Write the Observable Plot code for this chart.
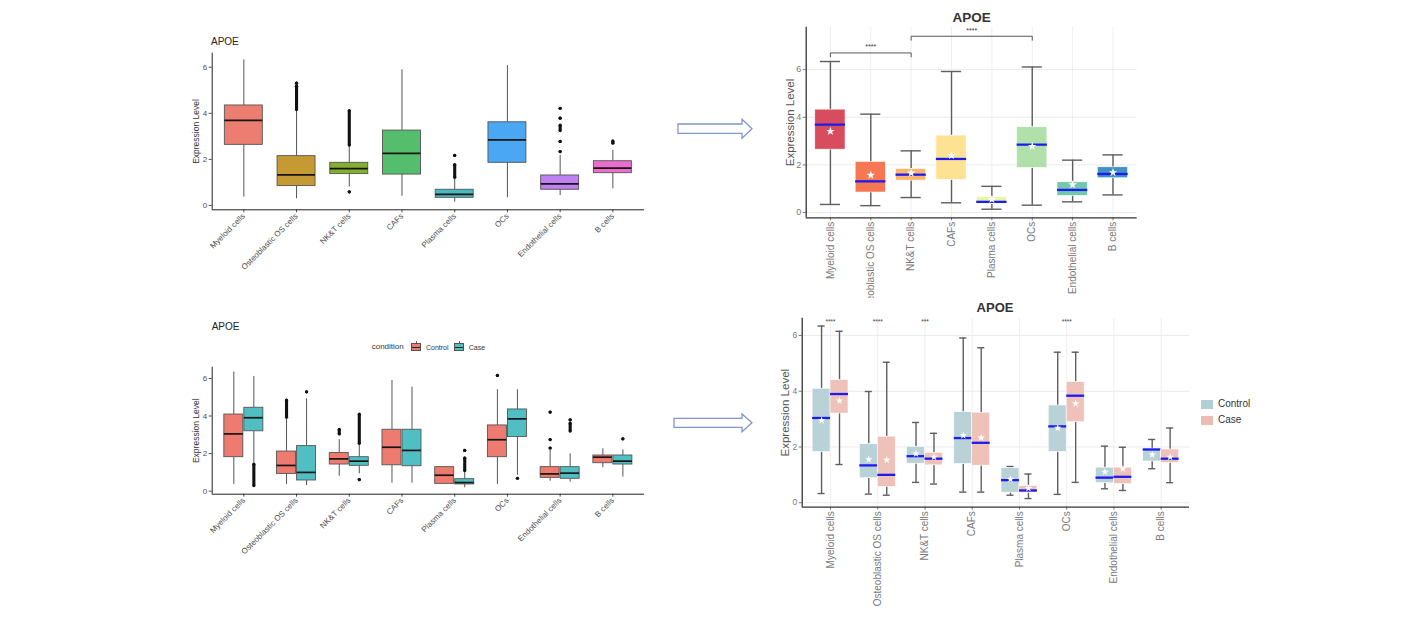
<!DOCTYPE html>
<html><head><meta charset="utf-8">
<script src="https://cdn.jsdelivr.net/npm/d3@7"></script>
<script src="https://cdn.jsdelivr.net/npm/@observablehq/plot@0.6"></script>
<style>
body{margin:0;background:#fff;}
#root{position:relative;width:1412px;height:628px;overflow:hidden;font-family:"Liberation Sans",Arial,Helvetica,sans-serif;}
.panel{position:absolute;}
.t{position:absolute;white-space:nowrap;line-height:1;}
</style></head><body><div id="root"></div>
<script>
const cells = ["Myeloid cells","Osteoblastic OS cells","NK&T cells","CAFs","Plasma cells","OCs","Endothelial cells","B cells"];
const yTicks = [0,2,4,6];
const idx = [1,2,3,4,5,6,7,8];
const groups = ["Control","Case"];

// ---- Top-left: all cells (ggplot default) ----
const tlLow  = [0.36,0.29,0.80,0.40,0.14,0.33,0.43,0.72];
const tlQ1   = [2.63,0.84,1.36,1.34,0.33,1.85,0.68,1.40];
const tlMed  = [3.69,1.33,1.60,2.26,0.48,2.85,0.94,1.62];
const tlQ3   = [4.34,2.14,1.85,3.25,0.68,3.61,1.30,1.92];
const tlHigh = [6.32,4.12,2.58,5.89,1.18,6.07,2.17,2.39];
const tlOut  = [[],[[4.16,5.1],[5.18,5.18],[5.31,5.31]],[[0.59,0.59],[2.62,4.1]],[],[[1.22,1.75],[2.17,2.17]],[],[[2.34,2.34],[2.78,2.78],[3.25,3.47],[3.79,3.79],[4.22,4.22]],[[2.7,2.78]]];
const tlColors = ["#EC7E71","#C69A33","#86AE2E","#55BE6C","#48BBC2","#4AA7F4","#BE80F2","#EB6ECE"];

// ---- Top-right: all cells (styled) ----
const trLow  = [0.34,0.29,0.63,0.41,0.14,0.31,0.45,0.74];
const trQ1   = [2.64,0.84,1.34,1.37,0.36,1.87,0.70,1.44];
const trMed  = [3.69,1.31,1.59,2.25,0.45,2.85,0.95,1.62];
const trMean = [3.41,1.57,1.66,2.39,0.55,2.78,1.17,1.68];
const trQ3   = [4.32,2.13,1.83,3.23,0.64,3.58,1.27,1.90];
const trHigh = [6.34,4.13,2.59,5.92,1.10,6.11,2.20,2.42];
const trColors = ["#D53E4F","#F46D43","#FDAE61","#FEE08B","#E6F598","#ABDDA4","#66C2A5","#3288BD"];
const trBrackets = [{from:1,to:3,y:6.70,label:"****"},{from:3,to:6,y:7.40,label:"****"}];

// ---- Bottom-left: by condition (ggplot default) ----
const blCtrlLow  = [0.36,0.36,0.80,0.43,0.36,0.36,0.53,1.25];
const blCtrlQ1   = [1.81,0.92,1.42,1.38,0.39,1.81,0.71,1.49];
const blCtrlMed  = [3.05,1.37,1.72,2.34,0.85,2.74,0.92,1.81];
const blCtrlQ3   = [4.08,2.11,2.03,3.27,1.28,3.50,1.28,1.90];
const blCtrlHigh = [6.34,3.85,2.74,5.89,1.30,5.40,2.17,2.26];
const blCtrlOut  = [[],[[3.94,4.83]],[[3.05,3.27]],[],[],[[6.16,6.16]],[[2.3,2.3],[2.75,2.75],[4.21,4.21]],[]];
const blCaseLow  = [1.50,0.30,0.92,0.43,0.18,0.85,0.48,0.75];
const blCaseQ1   = [3.19,0.57,1.35,1.33,0.36,2.88,0.66,1.42];
const blCaseMed  = [3.91,1.00,1.60,2.17,0.46,3.85,0.96,1.60];
const blCaseQ3   = [4.44,2.40,1.81,3.27,0.64,4.35,1.28,1.90];
const blCaseHigh = [6.11,4.92,2.50,5.54,1.05,5.40,1.99,2.20];
const blCaseOut  = [[[0.3,1.42]],[[5.29,5.29]],[[0.62,0.62],[2.55,4.08]],[],[[1.1,1.75],[2.17,2.17]],[[0.69,0.69]],[[3.2,3.6],[3.8,3.8]],[[2.79,2.79]]];
const blColors = ["#EE7B6F","#4FBFC3"];

// ---- Bottom-right: by condition (styled) ----
const brCtrlLow  = [0.33,0.31,0.73,0.38,0.27,0.30,0.50,1.22];
const brCtrlQ1   = [1.82,0.88,1.40,1.39,0.36,1.82,0.70,1.48];
const brCtrlMed  = [3.04,1.34,1.67,2.32,0.81,2.74,0.90,1.91];
const brCtrlMean = [2.95,1.55,1.76,2.41,0.84,2.68,1.10,1.72];
const brCtrlQ3   = [4.09,2.10,2.00,3.25,1.24,3.49,1.26,1.94];
const brCtrlHigh = [6.34,3.99,2.88,5.91,1.30,5.40,2.03,2.27];
const brCaseLow  = [1.37,0.27,0.67,0.38,0.15,0.73,0.44,0.72];
const brCaseQ1   = [3.20,0.57,1.34,1.33,0.36,2.89,0.67,1.43];
const brCaseMed  = [3.90,1.00,1.58,2.15,0.44,3.84,0.93,1.58];
const brCaseMean = [3.66,1.53,1.64,2.33,0.52,3.56,1.22,1.64];
const brCaseQ3   = [4.40,2.37,1.79,3.23,0.60,4.33,1.26,1.91];
const brCaseHigh = [6.15,5.04,2.49,5.56,1.03,5.40,1.99,2.68];
const brSig = ["****","****","***","","","****","",""];
const brSigY = 6.5;
const brColors = ["#B3CED5","#EDBCB3"];

const FONT = '"Liberation Sans", Arial, Helvetica, sans-serif';
const root = document.getElementById("root");

function rows(low,q1,med,q3,high,off,color,mean){
  return cells.map((c,i)=>({x:i+1+off, low:low[i], q1:q1[i], med:med[i], q3:q3[i], high:high[i], color:Array.isArray(color)?color[i]:color, mean: mean?mean[i]:null}));
}
function outRuns(out,off){ return out.flatMap((arr,i)=>arr.map(([a,b])=>({x:i+1+off,a,b}))); }

function ggBoxes(data, half, runs){
  return [
    Plot.ruleX(data,{x:"x",y1:"low",y2:"q1",stroke:"#555",strokeWidth:1}),
    Plot.ruleX(data,{x:"x",y1:"q3",y2:"high",stroke:"#555",strokeWidth:1}),
    Plot.rect(data,{x1:d=>d.x-half,x2:d=>d.x+half,y1:"q1",y2:"q3",fill:"color",stroke:"#555",strokeWidth:0.9}),
    Plot.ruleY(data,{y:"med",x1:d=>d.x-half,x2:d=>d.x+half,stroke:"#151515",strokeWidth:1.7}),
    Plot.ruleX(runs.filter(d=>d.b>d.a),{x:"x",y1:"a",y2:"b",stroke:"#111",strokeWidth:3.1,strokeLinecap:"round"}),
    Plot.dot(runs.flatMap(d=>[{x:d.x,y:d.a},{x:d.x,y:d.b}]),{x:"x",y:"y",r:1.6,fill:"#111"})
  ];
}
function niceBoxes(data, half, cap, starR){
  return [
    Plot.ruleX(data,{x:"x",y1:"low",y2:"q1",stroke:"#5e5e5e",strokeWidth:1.4}),
    Plot.ruleX(data,{x:"x",y1:"q3",y2:"high",stroke:"#5e5e5e",strokeWidth:1.4}),
    Plot.ruleY(data,{y:"low",x1:d=>d.x-cap,x2:d=>d.x+cap,stroke:"#5e5e5e",strokeWidth:1.4}),
    Plot.ruleY(data,{y:"high",x1:d=>d.x-cap,x2:d=>d.x+cap,stroke:"#5e5e5e",strokeWidth:1.4}),
    Plot.rect(data,{x1:d=>d.x-half,x2:d=>d.x+half,y1:"q1",y2:"q3",fill:"color",fillOpacity:0.92,stroke:"white",strokeWidth:0.6}),
    Plot.ruleY(data,{y:"med",x1:d=>d.x-half,x2:d=>d.x+half,stroke:"#1c1cf0",strokeWidth:2.3}),
    Plot.dot(data,{x:"x",y:"mean",symbol:"star",r:starR,fill:"white",stroke:"none"})
  ];
}

function panel(cfg, marks){
  const base = [];
  if (cfg.grid) base.push(
    Plot.gridY({ticks:yTicks,stroke:"#e8e8e8",strokeOpacity:1,strokeWidth:0.9}),
    Plot.gridX({ticks:idx,stroke:"#ececec",strokeOpacity:1,strokeWidth:0.9}));
  base.push(
    Plot.axisY({ticks:yTicks,tickFormat:d3.format("d"),tickSize:3,tickPadding:2,fontSize:cfg.yFont,color:cfg.tickColor,label:null}),
    Plot.axisX({ticks:idx,tickFormat:i=>cells[i-1],tickRotate:cfg.rotate,tickSize:3,tickPadding:cfg.xPad,fontSize:cfg.xFont,color:cfg.tickColor,label:null}),
    Plot.text(["Expression Level"],{frameAnchor:"left",textAnchor:"middle",rotate:-90,dx:cfg.labelDx,fontSize:cfg.labelFont,fill:cfg.labelColor}));
  return Plot.plot({
    width:cfg.w,height:cfg.h,marginLeft:cfg.ml,marginRight:cfg.mr,marginTop:cfg.mt,marginBottom:cfg.mb,
    x:{domain:[0.4,8.6]}, y:{domain:cfg.yDom},
    style:{fontFamily:FONT,background:"transparent",overflow:"visible"},
    marks:[...base,...marks,
      Plot.ruleX([0.4],{stroke:cfg.axisColor,strokeWidth:cfg.axisW}),
      Plot.ruleY([cfg.yDom[0]],{stroke:cfg.axisColor,strokeWidth:cfg.axisW})]
  });
}
function place(svg,left,top,clipH){
  const d=document.createElement("div"); d.className="panel";
  d.style.left=left+"px"; d.style.top=top+"px";
  if(clipH){d.style.height=clipH+"px";d.style.overflow="hidden";}
  d.appendChild(svg); root.appendChild(d);
}
function text(str,x,cy,size,opts={}){
  const d=document.createElement("div"); d.className="t"; d.textContent=str;
  d.style.fontSize=size+"px"; d.style.top=(cy-0.52*size)+"px";
  d.style.color=opts.color||"#222"; if(opts.bold) d.style.fontWeight="bold";
  if(opts.center){d.style.left=x+"px";d.style.transform="translateX(-50%)";} else d.style.left=x+"px";
  root.appendChild(d);
}
function box(x,y,w,h,bg,border){
  const d=document.createElement("div"); d.style.position="absolute";
  d.style.left=x+"px";d.style.top=y+"px";d.style.width=w+"px";d.style.height=h+"px";
  d.style.background=bg; if(border) d.style.border=border; d.style.boxSizing="border-box";
  root.appendChild(d); return d;
}

// Top-left
const tl = rows(tlLow,tlQ1,tlMed,tlQ3,tlHigh,0,tlColors);
place(panel({w:520,h:270,ml:61.7,mr:26,mt:22.7,mb:90.7,yDom:[-0.19,6.61],rotate:-45,xPad:2,xFont:8,yFont:8,tickColor:"#4d4d4d",labelFont:8.5,labelColor:"#333",labelDx:-15.5,axisColor:"#222",axisW:1,grid:false},
  ggBoxes(tl,0.36,outRuns(tlOut,0))),150,30);
text("APOE",211,42,10);

// Top-right
const tr = rows(trLow,trQ1,trMed,trQ3,trHigh,0,trColors,trMean);
const brkSegs = trBrackets.flatMap(b=>[
  {x1:b.from,y1:b.y-0.18,x2:b.from,y2:b.y},{x1:b.from,y1:b.y,x2:b.to,y2:b.y},{x1:b.to,y1:b.y,x2:b.to,y2:b.y-0.18}]);
place(panel({w:420,h:298,ml:65.7,mr:23.3,mt:26.7,mb:80.7,yDom:[-0.22,7.78],rotate:-90,xPad:1,xFont:10,yFont:9,tickColor:"#7a7a7a",labelFont:11.5,labelColor:"#555",labelDx:-15.7,axisColor:"#333",axisW:1.3,grid:true},
  [...niceBoxes(tr,0.375,0.25,2.7),
   Plot.link(brkSegs,{x1:"x1",y1:"y1",x2:"x2",y2:"y2",stroke:"#555",strokeWidth:1}),
   Plot.text(trBrackets,{x:d=>(d.from+d.to)/2,y:"y",text:"label",dy:-6,fontSize:7,fill:"#333"})]),740,0,298);
text("APOE",971.7,18,13.5,{bold:true,center:true,color:"#333"});

// Bottom-left
const blC = rows(blCtrlLow,blCtrlQ1,blCtrlMed,blCtrlQ3,blCtrlHigh,-0.19,blColors[0]);
const blK = rows(blCaseLow,blCaseQ1,blCaseMed,blCaseQ3,blCaseHigh,0.19,blColors[1]);
place(panel({w:520,h:260,ml:61.7,mr:26,mt:36.7,mb:96.3,yDom:[-0.16,6.6],rotate:-45,xPad:2,xFont:8,yFont:8,tickColor:"#4d4d4d",labelFont:8.5,labelColor:"#333",labelDx:-15.7,axisColor:"#222",axisW:1,grid:false},
  [...ggBoxes(blC,0.18,outRuns(blCtrlOut,-0.19)),...ggBoxes(blK,0.18,outRuns(blCaseOut,0.19))]),150,330);
text("APOE",211.7,326.7,10);
text("condition",371.7,347.5,8,{color:"#333"});
[[411,"Control",426,blColors[0]],[454,"Case",468.7,blColors[1]]].forEach(([kx,lab,tx,col])=>{
  box(kx+4.6,341,0.9,10,"#666");
  box(kx,343.3,10,8,col,"0.9px solid #555");
  box(kx+1,346.8,8,1.2,"#222");
  text(lab,tx,347.5,7,{color:"#333"});
});

// Bottom-right
const brC = rows(brCtrlLow,brCtrlQ1,brCtrlMed,brCtrlQ3,brCtrlHigh,-0.19,brColors[0],brCtrlMean);
const brK = rows(brCaseLow,brCaseQ1,brCaseMed,brCaseQ3,brCaseHigh,0.19,brColors[1],brCaseMean);
place(panel({w:460,h:333,ml:61.7,mr:11,mt:22.7,mb:121.3,yDom:[-0.16,6.62],rotate:-90,xPad:1,xFont:10,yFont:8.5,tickColor:"#7a7a7a",labelFont:11.5,labelColor:"#555",labelDx:-16.5,axisColor:"#333",axisW:1.3,grid:true},
  [...niceBoxes(brC,0.19,0.075,2.4),...niceBoxes(brK,0.19,0.075,2.4),
   Plot.text(brSig.map((s,i)=>({x:i+1,s})).filter(d=>d.s),{x:"x",y:()=>brSigY,text:"s",fontSize:6.5,fill:"#444"})]),740,295);
text("APOE",995,307.7,13,{bold:true,center:true,color:"#333"});
groups.forEach((g,i)=>{
  box(1200.7,400+i*16.3,12,8.5,brColors[i]);
  text(g,1218,404.6+i*16,10,{color:"#333"});
});

// Arrows
const ns="http://www.w3.org/2000/svg";
const asvg=document.createElementNS(ns,"svg");
asvg.setAttribute("width",1412);asvg.setAttribute("height",628);
asvg.style.position="absolute";asvg.style.left="0";asvg.style.top="0";asvg.style.pointerEvents="none";
[[678,742,752,124,133.3,119.3,138.3],[674,742,752,418.3,427.3,414,431.7]].forEach(([x0,xh,xt,s1,s2,h1,h2])=>{
  const p=document.createElementNS(ns,"polygon");
  const cy=(h1+h2)/2;
  p.setAttribute("points",`${x0},${s1} ${xh},${s1} ${xh},${h1} ${xt},${cy} ${xh},${h2} ${xh},${s2} ${x0},${s2}`);
  p.setAttribute("fill","white");p.setAttribute("stroke","#7f95cb");p.setAttribute("stroke-width","1.3");
  asvg.appendChild(p);
});
root.appendChild(asvg);
</script></body></html>
